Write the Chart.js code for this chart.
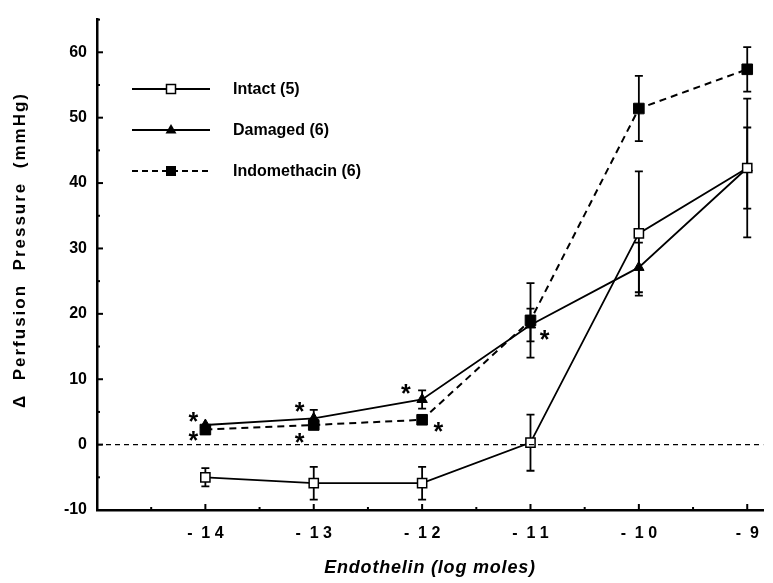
<!DOCTYPE html>
<html>
<head>
<meta charset="utf-8">
<script src="https://cdn.jsdelivr.net/npm/chart.js@4"></script>
<style>
  body { margin: 0; background: #fff; }
</style>
</head>
<body>
<canvas id="myChart" width="773" height="583"></canvas>
<script>
// data
var doses = [-14, -13, -12, -11, -10, -9];
var intact = [-5.0, -5.9, -5.9, 0.3, 32.3, 42.3];
var intactErr = [1.4, 2.5, 2.5, 4.3, 9.5, 10.6];
var damaged = [3.0, 4.0, 6.9, 18.3, 27.1, 42.3];
var damagedErr = [0, 1.3, 1.4, 2.5, 3.8, 6.2];
var indo = [2.3, 3.0, 3.8, 19.0, 51.4, 57.4];
var indoErr = [0, 0, 0, 5.7, 5.0, 3.4];
var xTicks = [-14, -13, -12, -11, -10, -9];
var yTicks = [-10, 0, 10, 20, 30, 40, 50, 60];
// asterisks (x in log moles, y in mmHg)
var starX = [-14.11, -14.11, -13.13, -13.13, -12.15, -11.85, -10.87];
var starY = [4.4, 1.4, 5.9, 1.2, 8.7, 2.9, 16.9];

var FONT = '"Liberation Sans", Arial, sans-serif';

function pts(vals) {
    return doses.map(function(d, i) { return {x: d, y: vals[i]}; });
}

var errorBars = {
    id: 'errorBars',
    beforeDatasetsDraw: function(chart) {
        var ctx = chart.ctx;
        var xs = chart.scales.x, ys = chart.scales.y;
        ctx.save();
        ctx.strokeStyle = '#000';
        ctx.lineWidth = 1.8;
        chart.data.datasets.forEach(function(ds) {
            if (!ds.errors) return;
            ds.data.forEach(function(p, i) {
                var e = ds.errors[i];
                if (!e) return;
                var x = xs.getPixelForValue(p.x);
                var y1 = ys.getPixelForValue(p.y + e);
                var y2 = ys.getPixelForValue(p.y - e);
                ctx.beginPath();
                ctx.moveTo(x, y1); ctx.lineTo(x, y2);
                ctx.moveTo(x - 4, y1); ctx.lineTo(x + 4, y1);
                ctx.moveTo(x - 4, y2); ctx.lineTo(x + 4, y2);
                ctx.stroke();
            });
        });
        ctx.restore();
    }
};

var extras = {
    id: 'extras',
    afterDraw: function(chart) {
        var ctx = chart.ctx;
        var xs = chart.scales.x, ys = chart.scales.y;
        var area = chart.chartArea;
        ctx.save();
        ctx.strokeStyle = '#000';
        ctx.lineWidth = 2;
        // inward ticks
        for (var v = -10; v <= 65; v += 5) {
            var y = ys.getPixelForValue(v);
            var len = (v % 10 === 0) ? 6 : 3;
            ctx.beginPath(); ctx.moveTo(area.left, y); ctx.lineTo(area.left + len, y); ctx.stroke();
        }
        for (var t = -14.5; t <= -8.9; t += 0.5) {
            var x = xs.getPixelForValue(t);
            var l = (Math.abs(t % 1) < 0.01) ? 6 : 3;
            ctx.beginPath(); ctx.moveTo(x, area.bottom); ctx.lineTo(x, area.bottom - l); ctx.stroke();
        }
        // asterisks
        ctx.fillStyle = '#000';
        ctx.font = 'bold 25px ' + FONT;
        ctx.textAlign = 'center';
        ctx.textBaseline = 'alphabetic';
        for (var i = 0; i < starX.length; i++) {
            ctx.fillText('*', xs.getPixelForValue(starX[i]), ys.getPixelForValue(starY[i]) + 14);
        }
        // legend
        var rows = [
            {label: 'Intact (5)', dash: [], style: 'openRect', y: 89},
            {label: 'Damaged (6)', dash: [], style: 'triangle', y: 130},
            {label: 'Indomethacin (6)', dash: [6, 4], style: 'rect', y: 171}
        ];
        rows.forEach(function(r) {
            ctx.setLineDash(r.dash);
            ctx.lineWidth = 1.8;
            ctx.beginPath(); ctx.moveTo(132, r.y); ctx.lineTo(210, r.y); ctx.stroke();
            ctx.setLineDash([]);
            var cx = 171;
            if (r.style === 'openRect') {
                ctx.fillStyle = '#fff';
                ctx.fillRect(cx - 4.5, r.y - 4.5, 9, 9);
                ctx.lineWidth = 1.5;
                ctx.strokeRect(cx - 4.5, r.y - 4.5, 9, 9);
            } else if (r.style === 'triangle') {
                ctx.fillStyle = '#000';
                ctx.beginPath();
                ctx.moveTo(cx, r.y - 6); ctx.lineTo(cx + 5.5, r.y + 3.5); ctx.lineTo(cx - 5.5, r.y + 3.5);
                ctx.closePath(); ctx.fill();
            } else {
                ctx.fillStyle = '#000';
                ctx.fillRect(cx - 5, r.y - 5, 10, 10);
            }
            ctx.fillStyle = '#000';
            ctx.font = 'bold 16px ' + FONT;
            ctx.textAlign = 'left';
            ctx.textBaseline = 'middle';
            ctx.fillText(r.label, 233, r.y + 1);
        });
        // axis titles
        ctx.fillStyle = '#000';
        ctx.textAlign = 'center';
        ctx.textBaseline = 'middle';
        ctx.font = 'bold 17px ' + FONT;
        ctx.letterSpacing = '2px';
        ctx.save();
        ctx.translate(20, 250);
        ctx.rotate(-Math.PI / 2);
        ctx.fillText('\u0394  Perfusion  Pressure  (mmHg)', 0, 0);
        ctx.restore();
        ctx.letterSpacing = '0.8px';
        ctx.font = 'italic bold 18px ' + FONT;
        ctx.fillText('Endothelin (log moles)', 430, 568);
        ctx.restore();
    }
};

var ctx = document.getElementById('myChart');
var myChart = new Chart(ctx, {
    type: 'line',
    data: {
        datasets: [{
            data: [{x: -15, y: 0}, {x: -8.85, y: 0}],
            borderColor: '#000',
            borderWidth: 1.3,
            borderDash: [5, 4],
            pointRadius: 0
        }, {
            label: 'Intact (5)',
            data: pts(intact),
            errors: intactErr,
            borderColor: '#000',
            borderWidth: 1.8,
            pointStyle: 'rect',
            pointRadius: 6.5,
            pointBackgroundColor: '#fff',
            pointBorderColor: '#000',
            pointBorderWidth: 1.5
        }, {
            label: 'Damaged (6)',
            data: pts(damaged),
            errors: damagedErr,
            borderColor: '#000',
            borderWidth: 1.8,
            pointStyle: 'triangle',
            pointRadius: 6,
            pointBackgroundColor: '#000',
            pointBorderColor: '#000',
            pointBorderWidth: 1
        }, {
            label: 'Indomethacin (6)',
            data: pts(indo),
            errors: indoErr,
            borderColor: '#000',
            borderWidth: 2,
            borderDash: [7, 5],
            pointStyle: 'rect',
            pointRadius: 7.5,
            pointBackgroundColor: '#000',
            pointBorderColor: '#000',
            pointBorderWidth: 1
        }]
    },
    options: {
        responsive: false,
        animation: false,
        layout: { padding: { top: 13, right: 0, left: 0, bottom: 0 } },
        plugins: {
            legend: { display: false },
            tooltip: { enabled: false }
        },
        scales: {
            x: {
                type: 'linear',
                min: -15,
                max: -8.85,
                afterBuildTicks: function(axis) {
                    axis.ticks = xTicks.map(function(v) { return {value: v}; });
                },
                afterFit: function(scale) { scale.height = 73; },
                grid: { display: false, drawTicks: false },
                border: { display: true, color: '#000', width: 2.5 },
                ticks: {
                    padding: 14,
                    color: '#000',
                    font: { family: FONT, size: 16, weight: 'bold' },
                    callback: function(v) {
                        return '-  ' + String(Math.abs(v)).split('').join(' ');
                    }
                }
            },
            y: {
                min: -10,
                max: 65,
                afterBuildTicks: function(axis) {
                    axis.ticks = yTicks.map(function(v) { return {value: v}; });
                },
                afterFit: function(scale) { scale.width = 97; },
                grid: { display: false, drawTicks: false },
                border: { display: true, color: '#000', width: 2.5 },
                ticks: {
                    padding: 10,
                    color: '#000',
                    font: { family: FONT, size: 16, weight: 'bold' }
                }
            }
        }
    },
    plugins: [errorBars, extras]
});
</script>
</body>
</html>
